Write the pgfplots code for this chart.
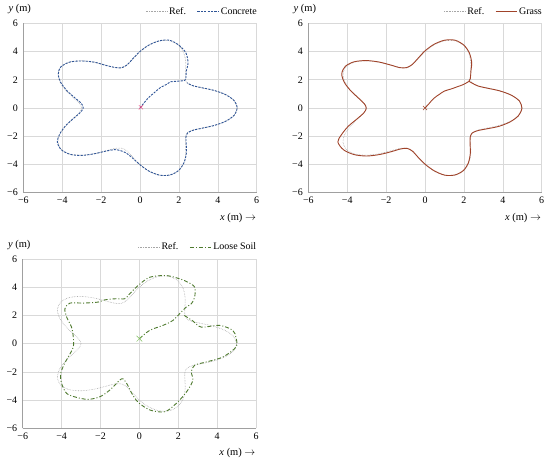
\documentclass[border=0pt]{standalone}
\usepackage{fontspec}
\setmainfont{Liberation Serif}
\usepackage{pgfplots}
\pgfplotsset{compat=1.18}

\definecolor{refgray}{HTML}{A6A6A6}
\definecolor{gridgray}{HTML}{D9D9D9}
\definecolor{axgray}{HTML}{A0A0A0}
\definecolor{concrete}{HTML}{2F5597}
\definecolor{grass}{HTML}{A0432A}
\definecolor{soil}{HTML}{4E7A2E}
\definecolor{startc}{HTML}{E8407A}
\definecolor{starts}{HTML}{7DBE5A}

% reference path
\pgfplotstableread{
x y
5 0
4.839 0.509
4.401 0.936
3.804 1.236
3.197 1.423
2.714 1.567
2.427 1.763
2.329 2.097
2.342 2.601
2.351 3.236
2.25 3.897
1.979 4.445
1.545 4.755
1.012 4.760
0.470 4.475
0 4
-0.366 3.481
-0.652 3.065
-0.927 2.853
-1.275 2.863
-1.75 3.031
-2.351 3.236
-3.011 3.344
-3.616 3.256
-4.045 2.939
-4.214 2.433
-4.111 1.830
-3.804 1.236
-3.423 0.728
-3.117 0.328
-3 0
-3.117 -0.328
-3.423 -0.728
-3.804 -1.236
-4.111 -1.830
-4.214 -2.433
-4.045 -2.939
-3.616 -3.256
-3.011 -3.344
-2.351 -3.236
-1.75 -3.031
-1.275 -2.863
-0.927 -2.853
-0.652 -3.065
-0.366 -3.481
0 -4
0.470 -4.475
1.012 -4.760
1.545 -4.755
1.979 -4.445
2.25 -3.897
2.351 -3.236
2.342 -2.601
2.329 -2.097
2.427 -1.763
2.714 -1.567
3.197 -1.423
3.804 -1.236
4.401 -0.936
4.839 -0.509
5 0
}\refpath

\pgfplotstableread{
x y
0 0
0.2 0.35
0.45 0.75
0.75 1.1
1.05 1.45
1.4 1.7
1.55 1.85
1.95 1.9
2.3 1.95
2.36 2.1
2.38 2.6
2.47 3.2
2.36 3.9
2.0 4.45
1.52 4.8
1.0 4.76
0.46 4.46
-0.02 3.98
-0.38 3.47
-0.66 3.06
-0.95 2.85
-1.28 2.87
-1.76 3.02
-2.36 3.25
-3.0 3.33
-3.62 3.25
-4.08 2.9
-4.2 2.4
-4.08 1.82
-3.75 1.22
-3.35 0.72
-3.02 0.33
-2.92 0
-3.08 -0.33
-3.42 -0.74
-3.82 -1.25
-4.13 -1.85
-4.25 -2.42
-4.05 -2.95
-3.6 -3.28
-3.0 -3.36
-2.34 -3.24
-1.74 -3.05
-1.3 -2.95
-1.0 -3.02
-0.7 -3.2
-0.38 -3.55
0 -4.02
0.47 -4.48
1.02 -4.76
1.55 -4.74
1.98 -4.43
2.26 -3.88
2.38 -3.23
2.38 -2.6
2.36 -2.1
2.44 -1.78
2.72 -1.58
3.2 -1.43
3.81 -1.24
4.42 -0.93
4.85 -0.5
5.0 0.02
4.84 0.52
4.4 0.95
3.8 1.25
3.2 1.43
2.72 1.58
2.42 1.78
}\concretepath

\pgfplotstableread{
x y
0 0
0.2 0.3
0.45 0.68
0.75 0.98
1.0 1.2
1.35 1.35
1.65 1.5
1.95 1.65
2.25 1.88
2.33 2.1
2.36 2.6
2.4 3.22
2.28 3.9
2.0 4.45
1.55 4.8
1.0 4.8
0.45 4.5
-0.02 4.02
-0.37 3.5
-0.66 3.08
-0.95 2.86
-1.3 2.86
-1.78 3.05
-2.38 3.26
-3.03 3.36
-3.65 3.27
-4.1 2.95
-4.28 2.42
-4.15 1.82
-3.82 1.22
-3.42 0.7
-3.12 0.3
-3.02 -0.02
-3.15 -0.35
-3.5 -0.78
-3.95 -1.3
-4.3 -1.9
-4.48 -2.4
-4.2 -2.95
-3.65 -3.3
-3.0 -3.4
-2.35 -3.3
-1.75 -3.1
-1.25 -2.9
-0.92 -2.86
-0.64 -3.06
-0.35 -3.5
0.02 -4.0
0.5 -4.47
1.03 -4.76
1.55 -4.74
1.98 -4.42
2.23 -3.88
2.33 -3.22
2.32 -2.6
2.32 -2.1
2.42 -1.78
2.72 -1.6
3.2 -1.47
3.8 -1.3
4.38 -0.98
4.8 -0.55
4.98 -0.02
4.85 0.5
4.42 0.92
3.82 1.22
3.22 1.4
2.72 1.56
2.4 1.78
2.25 1.9
}\grasspath

\pgfplotstableread{
x y
0 0.35
0.53 0.94
1.21 1.29
1.72 1.64
2.07 2.12
2.41 2.59
2.67 2.82
2.84 3.29
2.84 4.0
2.49 4.35
2.07 4.59
1.38 4.82
0.53 4.70
-0.07 4.11
-0.5 3.53
-0.75 3.18
-1.18 3.18
-1.78 3.10
-2.12 2.94
-2.89 2.87
-3.57 2.87
-3.83 2.47
-3.74 1.88
-3.49 1.17
-3.40 0.47
-3.40 -0.24
-3.66 -0.95
-3.88 -1.5
-4.05 -2.15
-4.0 -2.82
-3.74 -3.53
-3.23 -3.81
-2.64 -3.95
-2.04 -3.77
-1.52 -3.29
-1.01 -2.59
-0.84 -2.5
-0.62 -2.9
-0.4 -3.5
-0.07 -4.15
0.53 -4.7
1.21 -4.85
1.55 -4.65
2.07 -4.0
2.49 -3.29
2.75 -2.59
2.67 -2.0
2.84 -1.53
3.44 -1.30
4.29 -0.95
4.97 -0.24
4.97 0.4
4.8 0.94
4.12 1.29
3.18 1.17
2.75 1.6
2.3 2.0
}\soilpath

\pgfplotsset{
  panel/.style={
    scale only axis, width=233.4bp, height=169.4bp,
    xmin=-6, xmax=6, ymin=-6, ymax=6,
    xtick={-6,-4,...,6}, ytick={-6,-4,...,6},
    xticklabels={−6,−4,−2,0,2,4,6},
    yticklabels={−6,−4,−2,0,2,4,6},
    major tick length=0pt,
    grid=major, grid style={gridgray, line width=0.6pt},
    axis x line*=bottom, axis y line*=left,
    axis line style={axgray, line width=0.8pt, -},
    tick label style={font=\fontsize{10}{12}\selectfont},
    xticklabel style={yshift=-1bp},
    yticklabel style={xshift=-2bp},
    legend columns=2,
    legend style={draw=none, fill=none, at={(1.01,1.02)}, anchor=south east,
      inner xsep=0pt,
      font=\fontsize{10}{12}\selectfont,
      /tikz/every even column/.append style={column sep=9bp}},
    legend image code/.code={\draw[#1] (0bp,0bp) -- (21bp,0bp);},
    ylabel={\textit{y} (m)},
    ylabel style={rotate=-90, at={(axis description cs:-0.015,1.083)}, anchor=center,
      font=\fontsize{10.5}{12}\selectfont},
    xlabel={\textit{x} (m) $\rightarrow$},
    xlabel style={at={(axis description cs:0.92,-0.148)}, anchor=center,
      font=\fontsize{10.5}{12}\selectfont},
  },
  refline/.style={refgray, densely dotted, line width=0.6pt, smooth},
}

\begin{document}
\begin{tikzpicture}
\useasboundingbox (0,0) rectangle (550bp,458bp);

% Concrete
\begin{axis}[panel, at={(23.3bp,265.3bp)}, anchor=south west]
\addplot[refline] table {\refpath};
\addplot[concrete, dash pattern=on 2.2pt off 1.2pt, line width=0.9pt, smooth] table {\concretepath};
\addplot[only marks, mark=x, mark size=3pt, startc, forget plot] coordinates {(0.05,0.05)};
\legend{Ref., Concrete}
\end{axis}

% Grass
\begin{axis}[panel, at={(308.3bp,265.3bp)}, anchor=south west]
\addplot[refline] table {\refpath};
\addplot[grass, line width=0.9pt, smooth] table {\grasspath};
\addplot[only marks, mark=x, mark size=3pt, grass, forget plot] coordinates {(0,0)};
\legend{Ref., Grass}
\end{axis}

% Loose soil
\begin{axis}[panel, at={(22.7bp,29.7bp)}, anchor=south west]
\addplot[refline] table {\refpath};
\addplot[soil, dash pattern=on 4pt off 2pt on 1pt off 2pt, line width=0.9pt, smooth] table {\soilpath};
\addplot[only marks, mark=x, mark size=4pt, starts, forget plot] coordinates {(0,0.35)};
\legend{Ref., Loose Soil}
\end{axis}
\end{tikzpicture}
\end{document}
